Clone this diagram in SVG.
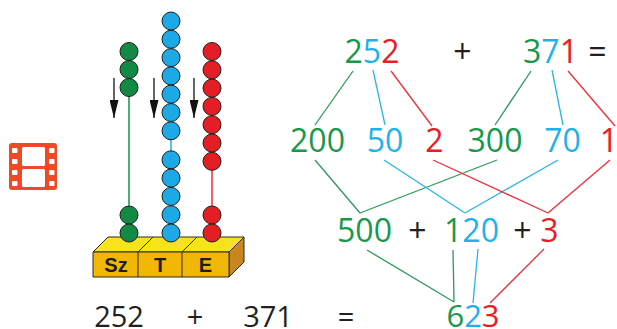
<svg xmlns="http://www.w3.org/2000/svg" width="617" height="329" viewBox="0 0 617 329">
  <style>
    .num { font-family: "Open Sans", "Noto Sans", sans-serif; font-size: 32px; text-anchor: middle; }
    .g { fill: #17994b; }
    .b { fill: #1fb2ea; }
    .r { fill: #ec1c24; }
    .k { fill: #231f20; }
    .lg { stroke: #2a9a5a; }
    .lb { stroke: #2ab4ea; }
    .lr { stroke: #ee2e3a; }
    #connectors line { stroke-width: 1.3; fill: none; }
    .bead { stroke: #1e1e1e; stroke-width: 1; }
    .bg { fill: #138a43; }
    .bb { fill: #1ca9e6; }
    .br { fill: #e31e24; }
    .lbl { font-family: "Liberation Sans", Arial, sans-serif; font-weight: bold; font-size: 20px; fill: #1e1e1e; text-anchor: middle; }
  </style>
  <defs>
    <marker id="arrowhead" viewBox="0 0 18 9" refX="18" refY="4.5" markerWidth="18" markerHeight="9" markerUnits="userSpaceOnUse" orient="auto">
      <path d="M0,0 L18,4.5 L0,9 Z" fill="#111"/>
    </marker>
  </defs>

  <!-- film icon -->
  <g id="film-icon">
    <rect x="9" y="143" width="48" height="47" rx="3" fill="#ef4a26"/>
    <g fill="#fff">
      <rect x="12" y="148" width="5.5" height="5" rx="1"/>
      <rect x="12" y="159" width="5.5" height="5" rx="1"/>
      <rect x="12" y="170" width="5.5" height="5" rx="1"/>
      <rect x="12" y="181" width="5.5" height="5" rx="1"/>
      <rect x="49" y="148" width="5.5" height="5" rx="1"/>
      <rect x="49" y="159" width="5.5" height="5" rx="1"/>
      <rect x="49" y="170" width="5.5" height="5" rx="1"/>
      <rect x="49" y="181" width="5.5" height="5" rx="1"/>
      <rect x="22" y="147" width="23" height="19" rx="1.5"/>
      <rect x="22" y="169" width="23" height="18" rx="1.5"/>
    </g>
  </g>

  <!-- abacus -->
  <g id="abacus">
    <!-- drop arrows -->
    <g stroke="#111" stroke-width="1.3">
      <line x1="114" y1="78" x2="114" y2="118" marker-end="url(#arrowhead)"/>
      <line x1="154" y1="78" x2="154" y2="118" marker-end="url(#arrowhead)"/>
      <line x1="194" y1="78" x2="194" y2="118" marker-end="url(#arrowhead)"/>
    </g>
    <!-- rods -->
    <line x1="129" y1="87" x2="129" y2="216" stroke="#1e9a55" stroke-width="1.6"/>
    <line x1="171" y1="131" x2="171" y2="160" stroke="#2ab4ea" stroke-width="1.6"/>
    <line x1="212" y1="161" x2="212" y2="216" stroke="#ef3a44" stroke-width="1.6"/>

    <!-- base block -->
    <g id="base" stroke="#2a2a2a" stroke-width="1" stroke-linejoin="round">
      <polygon points="93,252 108,237 244,237 229,252" fill="#f7e31b"/>
      <polygon points="229,252 244,237 244,262 229,277" fill="#c8861f"/>
      <rect x="93" y="252" width="136" height="25" fill="#f2b705"/>
      <line x1="138" y1="252" x2="138" y2="277"/>
      <line x1="182" y1="252" x2="182" y2="277"/>
      <line x1="138" y1="252" x2="153" y2="237"/>
      <line x1="182" y1="252" x2="197" y2="237"/>
    </g>
    <text class="lbl" x="116" y="272">Sz</text>
    <text class="lbl" x="160" y="272">T</text>
    <text class="lbl" x="205.5" y="272">E</text>

    <!-- beads: hundreds -->
    <g class="bead bg">
      <circle cx="129" cy="51.5" r="9"/>
      <circle cx="129" cy="69.5" r="9"/>
      <circle cx="129" cy="87.5" r="9"/>
      <circle cx="129" cy="215" r="9"/>
      <circle cx="129" cy="233" r="9"/>
    </g>
    <!-- beads: tens -->
    <g class="bead bb">
      <circle cx="171" cy="21" r="9"/>
      <circle cx="171" cy="39.3" r="9"/>
      <circle cx="171" cy="57.6" r="9"/>
      <circle cx="171" cy="75.9" r="9"/>
      <circle cx="171" cy="94.2" r="9"/>
      <circle cx="171" cy="112.5" r="9"/>
      <circle cx="171" cy="130.8" r="9"/>
      <circle cx="171" cy="159.8" r="9"/>
      <circle cx="171" cy="178.1" r="9"/>
      <circle cx="171" cy="196.4" r="9"/>
      <circle cx="171" cy="214.7" r="9"/>
      <circle cx="171" cy="233" r="9"/>
    </g>
    <!-- beads: units -->
    <g class="bead br">
      <circle cx="212" cy="51.5" r="9"/>
      <circle cx="212" cy="69.8" r="9"/>
      <circle cx="212" cy="88.1" r="9"/>
      <circle cx="212" cy="106.4" r="9"/>
      <circle cx="212" cy="124.7" r="9"/>
      <circle cx="212" cy="143" r="9"/>
      <circle cx="212" cy="161.3" r="9"/>
      <circle cx="212" cy="215" r="9"/>
      <circle cx="212" cy="233" r="9"/>
    </g>
  </g>

  <!-- connectors of the decomposition tree -->
  <g id="connectors">
    <line class="lg" x1="353" y1="71" x2="315" y2="125"/>
    <line class="lb" x1="373" y1="70" x2="385" y2="125"/>
    <line class="lr" x1="391" y1="71" x2="432" y2="126"/>
    <line class="lg" x1="531" y1="71" x2="495" y2="125"/>
    <line class="lb" x1="552" y1="70" x2="563" y2="125"/>
    <line class="lr" x1="568" y1="71" x2="615" y2="126"/>

    <line class="lg" x1="315" y1="160" x2="360" y2="213"/>
    <line class="lg" x1="497" y1="160" x2="360" y2="213"/>
    <line class="lb" x1="384" y1="160" x2="465" y2="213"/>
    <line class="lb" x1="558" y1="160" x2="465" y2="213"/>
    <line class="lr" x1="433" y1="160" x2="548" y2="213"/>
    <line class="lr" x1="610" y1="160" x2="548" y2="213"/>

    <line class="lg" x1="367" y1="250" x2="454" y2="302"/>
    <line class="lg" x1="453" y1="250" x2="454" y2="302"/>
    <line class="lb" x1="478" y1="249" x2="473" y2="303"/>
    <line class="lr" x1="544" y1="249" x2="490" y2="303"/>
  </g>

  <!-- top equation -->
  <g id="n252"><text class="num" x="372" y="63"><tspan class="g">2</tspan><tspan class="b">5</tspan><tspan class="r">2</tspan></text></g>
  <g id="plus-top"><text class="num k" x="462.5" y="63">+</text></g>
  <g id="n371"><text class="num" x="550.5" y="63"><tspan class="g">3</tspan><tspan class="b">7</tspan><tspan class="r">1</tspan></text></g>
  <g id="eq-top"><text class="num k" x="597.5" y="63">=</text></g>

  <!-- place-value parts -->
  <g id="n200"><text class="num g" x="317.5" y="152">200</text></g>
  <g id="n50"><text class="num b" x="385" y="152">50</text></g>
  <g id="n2"><text class="num r" x="434.5" y="152">2</text></g>
  <g id="n300"><text class="num g" x="495" y="152">300</text></g>
  <g id="n70"><text class="num b" x="562.5" y="152">70</text></g>
  <g id="n1"><text class="num r" x="609" y="152">1</text></g>

  <!-- partial sums -->
  <g id="n500"><text class="num g" x="364.5" y="242">500</text></g>
  <g id="plus-a"><text class="num k" x="417.5" y="242">+</text></g>
  <g id="n120"><text class="num" x="471.5" y="242"><tspan class="g">1</tspan><tspan class="b">20</tspan></text></g>
  <g id="plus-b"><text class="num k" x="522.5" y="242">+</text></g>
  <g id="n3"><text class="num r" x="549.5" y="242">3</text></g>

  <!-- result -->
  <g id="n623"><text class="num" x="473" y="327" style="font-size:31px"><tspan class="g">6</tspan><tspan class="b">2</tspan><tspan class="r">3</tspan></text></g>

  <!-- equation under the abacus -->
  <g id="bottom-equation">
    <text class="num k" x="119" y="327" style="font-size:29px">252</text>
    <text class="num k" x="195" y="327" style="font-size:29px">+</text>
    <text class="num k" x="268" y="327" style="font-size:29px">371</text>
    <text class="num k" x="346" y="327" style="font-size:29px">=</text>
  </g>
</svg>
